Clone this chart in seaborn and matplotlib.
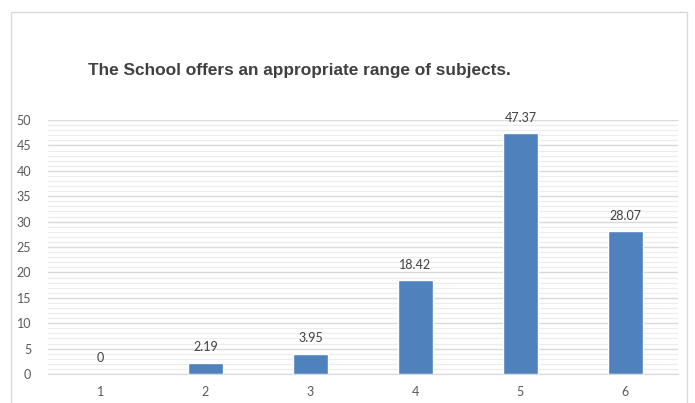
import pandas as pd
import matplotlib.pyplot as plt
import seaborn as sns
from matplotlib.patches import Rectangle
from matplotlib.ticker import MultipleLocator

# response scale and share of answers (%)
categories = ['1', '2', '3', '4', '5', '6']
percentages = [0, 2.19, 3.95, 18.42, 47.37, 28.07]
value_labels = ['0', '2.19', '3.95', '18.42', '47.37', '28.07']

df = pd.DataFrame({'Response': categories, 'Percent': percentages})

sns.set_style("white")
plt.rcParams['font.family'] = ['Lato', 'DejaVu Sans']

fig = plt.figure(figsize=(6.95, 4.03), dpi=100)
ax = fig.add_axes([0.069, 0.072, 0.9065, 0.630])

# chart frame (cropped at the bottom like the screenshot)
fig.patches.append(Rectangle((0.0158, -0.2), 0.9727, 1.17, transform=fig.transFigure,
                             fill=False, edgecolor='#d9d9d9', linewidth=1.0))

sns.barplot(data=df, x='Response', y='Percent', color='#4f81bd', width=0.33,
            saturation=1, ax=ax, zorder=3)

ax.set_ylim(0, 50)
ax.yaxis.set_major_locator(MultipleLocator(5))
ax.yaxis.set_minor_locator(MultipleLocator(1))
ax.grid(which='major', axis='y', color='#d9d9d9', linewidth=1.0, zorder=0)
ax.grid(which='minor', axis='y', color='#ececec', linewidth=0.8, zorder=0)
ax.set_axisbelow(True)

for s in ['top', 'right', 'left']:
    ax.spines[s].set_visible(False)
ax.spines['bottom'].set_color('#d9d9d9')

ax.tick_params(axis='both', which='both', length=0, labelsize=9, colors='#595959')
ax.tick_params(axis='y', pad=12)
ax.tick_params(axis='x', pad=9)
ax.set_xlabel('')
ax.set_ylabel('')

for i, (v, lab) in enumerate(zip(percentages, value_labels)):
    ax.annotate(lab, (i, v), xytext=(0, 7), textcoords='offset points',
                ha='center', va='bottom', fontsize=9, color='#404040')

fig.text(0.127, 0.826, 'The School offers an appropriate range of subjects.',
         fontsize=12.4, fontweight='bold', color='#404040', family=['Liberation Sans', 'DejaVu Sans'],
         ha='left', va='center')

plt.savefig('out.png', dpi=100)
